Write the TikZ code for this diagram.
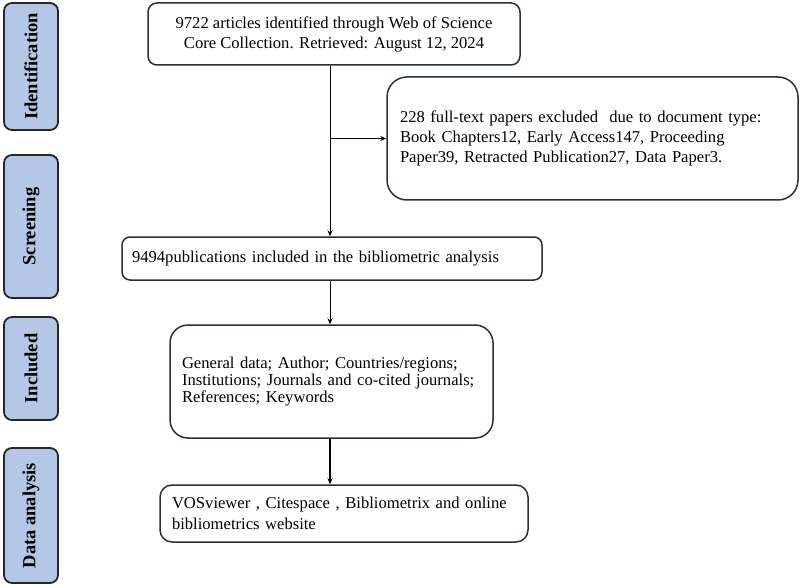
\documentclass[tikz,border=0pt]{standalone}
\usepackage{fontspec}
\setmainfont{Liberation Serif}
\usetikzlibrary{arrows.meta}
\definecolor{sidefill}{HTML}{B4C7E7}
\definecolor{boxline}{HTML}{28303E}
\begin{document}
\begin{tikzpicture}[x=1pt,y=-1pt,
  sidebox/.style={draw=black!85,line width=1.8pt,fill=sidefill,rounded corners=8pt,
    minimum width=54pt,inner sep=0pt},
  sidetext/.style={rotate=90,font=\fontsize{18.5}{20}\selectfont\bfseries},
  flowbox/.style={draw=boxline,line width=1.5pt,fill=white,inner ysep=0pt,
    font=\fontsize{16.6}{20}\selectfont},
  arr/.style={-{Stealth[length=6pt,width=5pt]},line width=1pt,black}]
\useasboundingbox (0,0) rectangle (800,588);
% side labels
\node[sidebox,minimum height=127pt] (sid) at (31,66.5) {};
\node[sidetext] (sidt) at (sid.center) {Identification};
\node[sidebox,minimum height=143pt] (sscr) at (31,226.5) {};
\node[sidetext] (sscrt) at (sscr.center) {Screening};
\node[sidebox,minimum height=103pt] (sinc) at (31,368.5) {};
\node[sidetext] (sinct) at (sinc.center) {Included};
\node[sidebox,minimum height=135pt] (sdat) at (31,515.5) {};
\node[sidetext] (sdatt) at (sdat.center) {Data analysis};
% flow boxes
\node[flowbox,rounded corners=9pt,minimum width=372pt,minimum height=62pt,align=center] (top) at (334,34)
  {9722 articles identified through Web of Science\\Core Collection. Retrieved: August 12, 2024};
\node[flowbox,rounded corners=20pt,minimum width=411pt,minimum height=123pt,inner xsep=13pt,
  text width=385pt,align=left] (excl) at (592.5,138.5)
  {228 full-text papers excluded\ \ due to document type:\\Book Chapters12, Early Access147, Proceeding\\Paper39, Retracted Publication27, Data Paper3.};
\node[flowbox,rounded corners=8pt,minimum width=420pt,minimum height=43pt,inner xsep=10pt,
  text width=400pt,align=left] (pub) at (332,258.5)
  {9494publications included in the bibliometric analysis};
\node[flowbox,rounded corners=18pt,minimum width=323pt,minimum height=113pt,inner xsep=12pt,
  text width=299pt,align=left,font=\fontsize{16.6}{17}\selectfont] (incl) at (331.5,381.5)
  {General data; Author; Countries/regions;\\Institutions; Journals and co-cited journals;\\References; Keywords};
\node[flowbox,rounded corners=12pt,minimum width=368pt,minimum height=57pt,inner xsep=12pt,
  text width=344pt,align=left,font=\fontsize{16.6}{21}\selectfont] (vos) at (344,513.5)
  {VOSviewer , Citespace , Bibliometrix and online\\bibliometrics website};
% connectors
\coordinate (spine) at (330,0);
\draw[arr] (top.south -| spine) -- (pub.north -| spine);
\coordinate (branch) at (330,138.5);
\draw[arr] (branch) -- (excl.west);
\draw[arr] (pub.south -| spine) -- (incl.north -| spine);
\draw[arr,line width=2.2pt] (incl.south -| spine) -- (vos.north -| spine);
\end{tikzpicture}
\end{document}
